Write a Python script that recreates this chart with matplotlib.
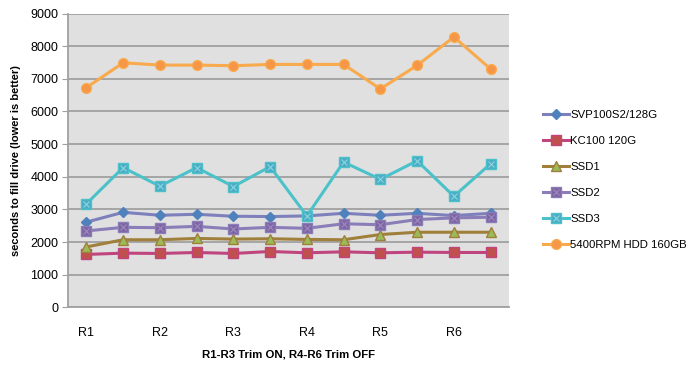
import matplotlib.pyplot as plt
import numpy as np

plt.rcParams["font.family"] = ["Liberation Sans", "DejaVu Sans"]

# 12 runs, labelled every second point (R1..R6)
tick_labels = ["R1", "", "R2", "", "R3", "", "R4", "", "R5", "", "R6", ""]

series_names = ["SVP100S2/128G", "KC100 120G", "SSD1", "SSD2", "SSD3", "5400RPM HDD 160GB"]
svp100 = [2610, 2910, 2820, 2850, 2790, 2780, 2800, 2880, 2820, 2880, 2810, 2880]
kc100 = [1620, 1660, 1650, 1680, 1650, 1710, 1670, 1700, 1670, 1690, 1680, 1680]
ssd1 = [1850, 2070, 2070, 2110, 2090, 2100, 2080, 2070, 2230, 2300, 2300, 2300]
ssd2 = [2340, 2450, 2440, 2480, 2400, 2450, 2420, 2560, 2530, 2690, 2740, 2760]
ssd3 = [3170, 4280, 3710, 4280, 3700, 4310, 2800, 4450, 3920, 4490, 3400, 4400]
hdd = [6730, 7490, 7420, 7420, 7400, 7440, 7440, 7440, 6690, 7410, 8280, 7300]

# (line colour, marker, marker face, marker edge, marker size, inner cross colour)
styles = [
    ("#7E80BC", "D", "#4F81BD", "#4F81BD", 5, None),
    ("#C0457E", "s", "#C0504D", "#C0457E", 6.5, None),
    ("#A07F3A", "^", "#9BBB59", "#A07F3A", 7, None),
    ("#8A7DB8", "s", "#8064A2", "#8A7DB8", 6.5, "#9B8CC4"),
    ("#4BC1C9", "s", "#4BACC6", "#4BC1C9", 6.5, "#8AD6DF"),
    ("#F8AA4C", "o", "#F79646", "#F8AA4C", 7, None),
]

fig = plt.figure(figsize=(6.91, 3.65), dpi=100)
ax = fig.add_axes([0.0984, 0.158, 0.6382, 0.805])
ax.set_facecolor("#E0E0E0")

x = np.arange(len(tick_labels))
handles = []
for name, vals, (lc, mk, mf, me, ms, cross) in zip(series_names, [svp100, kc100, ssd1, ssd2, ssd3, hdd], styles):
    (ln,) = ax.plot(x, vals, color=lc, lw=2.2, marker=mk, markersize=ms,
                    markerfacecolor=mf, markeredgecolor=me, markeredgewidth=1, zorder=3)
    h = ln
    if cross is not None:
        (cx,) = ax.plot(x, vals, ls="none", marker="x", markersize=ms - 2.5,
                        markeredgecolor=cross, markeredgewidth=0.8, zorder=4)
        h = (ln, cx)
    handles.append(h)

ax.set_xlim(-0.5, len(tick_labels) - 0.5)
ax.set_ylim(0, 9000)
ax.set_yticks(np.arange(0, 9001, 1000))
ax.set_xticks(x)
ax.set_xticklabels(tick_labels)
ax.yaxis.grid(True, color="#A0A0A0", lw=1.3, zorder=1)
ax.set_axisbelow(True)

for side in ("top", "right"):
    ax.spines[side].set_visible(False)
for side in ("left", "bottom"):
    ax.spines[side].set_color("#A0A0A0")
    ax.spines[side].set_linewidth(1.3)

ax.tick_params(axis="y", length=4, color="#A0A0A0", labelsize=9, pad=3)
ax.tick_params(axis="x", length=0, labelsize=9, pad=14)

ax.set_ylabel("seconds to fill drive (lower is better)", fontsize=8, fontweight="bold", labelpad=7)
ax.set_xlabel("R1-R3 Trim ON, R4-R6 Trim OFF", fontsize=8.2, fontweight="bold", labelpad=8)

fig.legend(handles, series_names, loc="upper left", bbox_to_anchor=(0.779, 0.71), frameon=False,
           fontsize=8.2, handlelength=2.3, handletextpad=0.1, labelspacing=1.4, borderaxespad=0)

fig.savefig("out.png", dpi=100)
